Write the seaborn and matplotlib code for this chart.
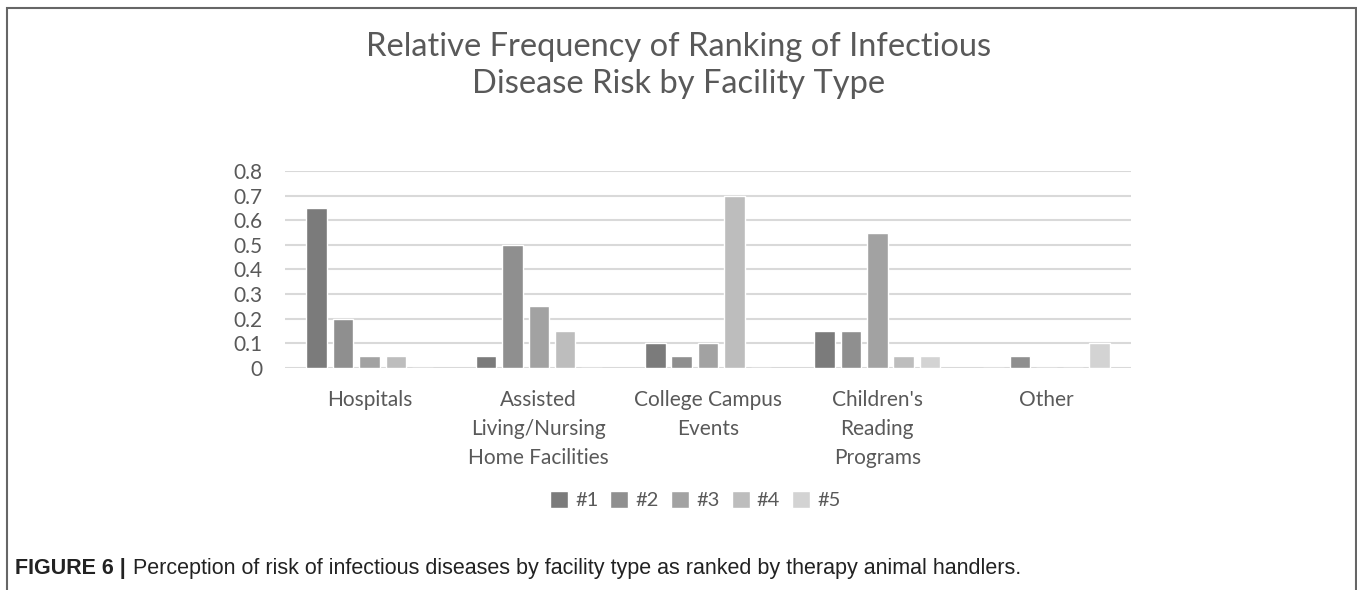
import numpy as np
import pandas as pd
import seaborn as sns
from matplotlib import pyplot as plt
from matplotlib.patches import Rectangle

facilities = ['Hospitals', 'Assisted\nLiving/Nursing\nHome Facilities', 'College Campus\nEvents',
              "Children's\nReading\nPrograms", 'Other']
ranks = ['#1', '#2', '#3', '#4', '#5']
rank1 = [0.65, 0.05, 0.10, 0.15, 0.00]
rank2 = [0.20, 0.50, 0.05, 0.15, 0.05]
rank3 = [0.05, 0.25, 0.10, 0.55, 0.00]
rank4 = [0.05, 0.15, 0.70, 0.05, 0.00]
rank5 = [0.00, 0.00, 0.00, 0.05, 0.10]
yticks = [0, 0.1, 0.2, 0.3, 0.4, 0.5, 0.6, 0.7, 0.8]

colors = ['#7b7b7b', '#8f8f8f', '#a2a2a2', '#bdbdbd', '#d3d3d3']
txt = '#595959'

df = pd.DataFrame({'facility': facilities * 5,
                   'rank': np.repeat(ranks, 5),
                   'value': rank1 + rank2 + rank3 + rank4 + rank5})

sns.set_style('white')
plt.rcParams['font.family'] = ['Lato', 'DejaVu Sans']

fig = plt.figure(figsize=(13.57, 5.90), dpi=100)
ax = fig.add_axes([0.21, 0.3763, 0.6235, 0.3339])

sns.barplot(data=df, x='facility', y='value', hue='rank', order=facilities, hue_order=ranks,
            palette=colors, width=0.78, gap=0.22, saturation=1, ax=ax, legend=True)

ax.set_ylim(0, 0.8)
ax.set_yticks(yticks)
ax.set_yticklabels(['0'] + [f'{t:.1f}' for t in yticks[1:]])
ax.set_xlim(-0.5, 4.5)
ax.yaxis.grid(True, color='#d9d9d9', linewidth=1.5)
ax.set_axisbelow(True)
for s in ax.spines.values():
    s.set_visible(False)
ax.set_xlabel('')
ax.set_ylabel('')
ax.tick_params(axis='y', length=0, pad=16, labelsize=15, labelcolor=txt)
ax.tick_params(axis='x', length=0, pad=16, labelsize=15, labelcolor=txt)
for lab in ax.get_xticklabels():
    lab.set_multialignment('center')
    lab.set_linespacing(1.55)

leg = ax.legend(loc='center', bbox_to_anchor=(0.485, -0.67), ncol=5, frameon=False,
                fontsize=14.5, handlelength=0.9, handleheight=0.9, handletextpad=0.35,
                columnspacing=0.6, labelcolor=txt)

fig.text(0.5, 0.889, 'Relative Frequency of Ranking of Infectious\nDisease Risk by Facility Type',
         ha='center', va='center', fontsize=23.5, color=txt, linespacing=1.3)

# caption, bold label then plain text right after it
cap_font = ['Liberation Sans Narrow', 'Liberation Sans', 'DejaVu Sans']
t1 = fig.text(0.011, 0.037, 'FIGURE 6 |', fontsize=15.5, fontweight='bold', color='#222222',
              family=cap_font, va='center')
ax.annotate('Perception of risk of infectious diseases by facility type as ranked by therapy animal handlers.',
            xy=(1, 0.5), xycoords=t1, xytext=(5, 0), textcoords='offset points',
            va='center', ha='left', fontsize=15.5, color='#222222', family=cap_font,
            annotation_clip=False)

fig.add_artist(Rectangle((0.005, -0.05), 0.994, 1.037, transform=fig.transFigure,
                         fill=False, edgecolor='#666666', linewidth=1.5))

fig.savefig('out.png', dpi=100)
plt.close()
